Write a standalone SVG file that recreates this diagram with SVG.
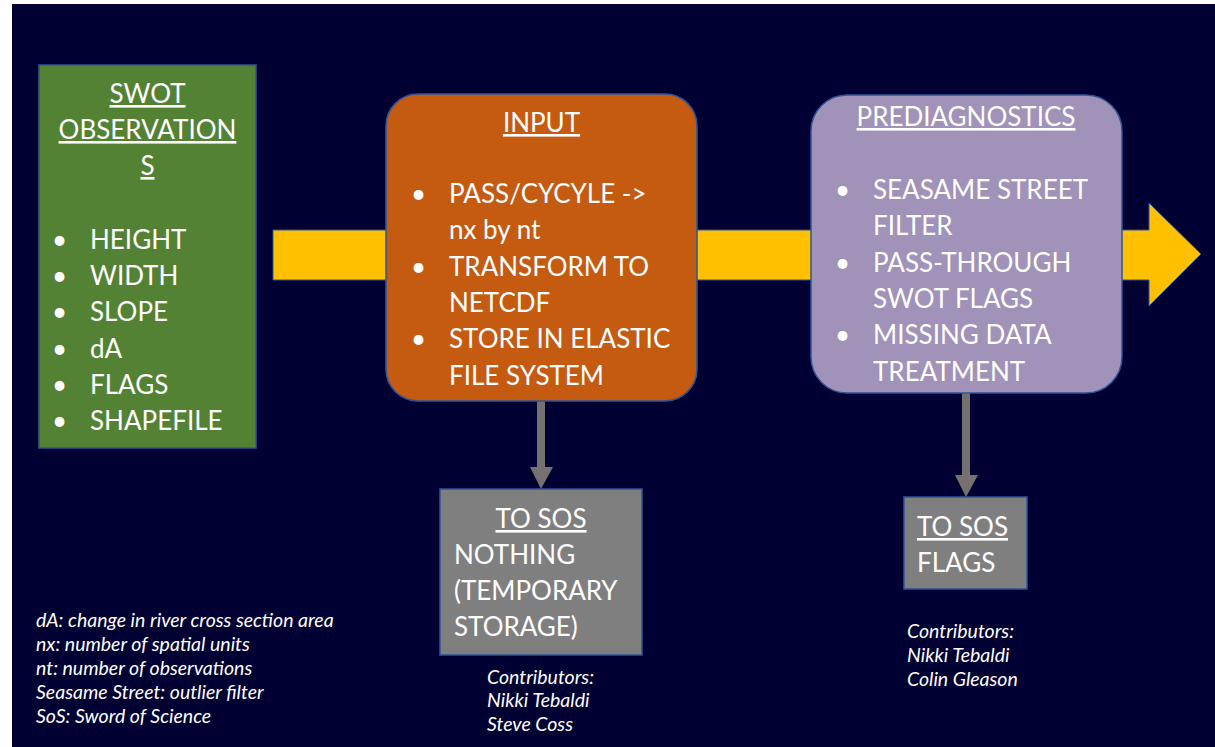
<svg xmlns="http://www.w3.org/2000/svg" width="1215" height="747" viewBox="0 0 1215 747">
<defs>
<style>
.t{font-family:Lato,"Open Sans","Liberation Sans",sans-serif;fill:#ffffff;font-size:26px}
.u{text-decoration:underline}
.i{font-family:Lato,"Open Sans","Liberation Sans",sans-serif;fill:#ffffff;font-size:19.5px;font-style:italic}
.box{stroke:#2F5597;stroke-width:1.5}
.gray{fill:#7F7F7F;stroke:#2F5597;stroke-width:1.5}
.conn{fill:#767171}
</style>
</defs>
<rect x="0" y="0" width="1215" height="747" fill="#ffffff"/>
<rect x="12" y="4" width="1203" height="743" fill="#000033"/>
<g id="flow-arrow">
<polygon points="273,230 1149,230 1149,203 1201,254 1149,306 1149,280 273,280" fill="#FFC000" stroke="#2F5597" stroke-width="1"/>
</g>
<g id="connectors">
<rect class="conn" x="537" y="401" width="8" height="67"/>
<polygon class="conn" points="530,467 553,467 541,489"/>
<rect class="conn" x="962" y="393" width="8" height="83"/>
<polygon class="conn" points="955,475 978,475 966,497"/>
</g>
<g id="swot">
<rect class="box" x="39" y="65" width="217" height="383" fill="#548235"/>
<text class="t u" x="147.5" y="103" text-anchor="middle">SWOT</text>
<text class="t u" x="147.5" y="139" text-anchor="middle">OBSERVATION</text>
<text class="t u" x="147.5" y="175" text-anchor="middle">S</text>
<text class="t" x="52" y="249">•</text><text class="t" x="90" y="249">HEIGHT</text>
<text class="t" x="52" y="285">•</text><text class="t" x="90" y="285">WIDTH</text>
<text class="t" x="52" y="321">•</text><text class="t" x="90" y="321">SLOPE</text>
<text class="t" x="52" y="358">•</text><text class="t" x="90" y="358">dA</text>
<text class="t" x="52" y="394">•</text><text class="t" x="90" y="394">FLAGS</text>
<text class="t" x="52" y="430">•</text><text class="t" x="90" y="430">SHAPEFILE</text>
</g>
<g id="input">
<rect class="box" x="386" y="94" width="311" height="307" rx="32" fill="#C55A11"/>
<text class="t u" x="541.5" y="132" text-anchor="middle">INPUT</text>
<text class="t" x="411" y="203">•</text><text class="t" x="449" y="203">PASS/CYCYLE -&gt;</text>
<text class="t" x="449" y="239">nx by nt</text>
<text class="t" x="411" y="276">•</text><text class="t" x="449" y="276">TRANSFORM TO</text>
<text class="t" x="449" y="312">NETCDF</text>
<text class="t" x="411" y="348">•</text><text class="t" x="449" y="348">STORE IN ELASTIC</text>
<text class="t" x="449" y="385">FILE SYSTEM</text>
</g>
<g id="prediagnostics">
<rect class="box" x="811" y="95" width="311" height="298" rx="36" fill="#A092B8"/>
<text class="t u" x="966" y="126" text-anchor="middle">PREDIAGNOSTICS</text>
<text class="t" x="835" y="199">•</text><text class="t" x="873" y="199">SEASAME STREET</text>
<text class="t" x="873" y="235">FILTER</text>
<text class="t" x="835" y="272">•</text><text class="t" x="873" y="272">PASS-THROUGH</text>
<text class="t" x="873" y="308">SWOT FLAGS</text>
<text class="t" x="835" y="344">•</text><text class="t" x="873" y="344">MISSING DATA</text>
<text class="t" x="873" y="381">TREATMENT</text>
</g>
<g id="sos-input">
<rect class="gray" x="440" y="489" width="202" height="166"/>
<text class="t u" x="541" y="528" text-anchor="middle">TO SOS</text>
<text class="t" x="454" y="564">NOTHING</text>
<text class="t" x="454" y="600">(TEMPORARY</text>
<text class="t" x="454" y="636">STORAGE)</text>
</g>
<g id="sos-prediag">
<rect class="gray" x="904" y="497" width="123" height="92"/>
<text class="t u" x="917" y="536">TO SOS</text>
<text class="t" x="917" y="572">FLAGS</text>
</g>
<g id="contributors-input">
<text class="i" x="487" y="684">Contributors:</text>
<text class="i" x="487" y="707">Nikki Tebaldi</text>
<text class="i" x="487" y="731">Steve Coss</text>
</g>
<g id="contributors-prediag">
<text class="i" x="907" y="638">Contributors:</text>
<text class="i" x="907" y="662">Nikki Tebaldi</text>
<text class="i" x="907" y="686">Colin Gleason</text>
</g>
<g id="legend">
<text class="i" x="36" y="627">dA: change in river cross section area</text>
<text class="i" x="36" y="651">nx: number of spatial units</text>
<text class="i" x="36" y="675">nt: number of observations</text>
<text class="i" x="36" y="699">Seasame Street: outlier filter</text>
<text class="i" x="36" y="723">SoS: Sword of Science</text>
</g>
</svg>
